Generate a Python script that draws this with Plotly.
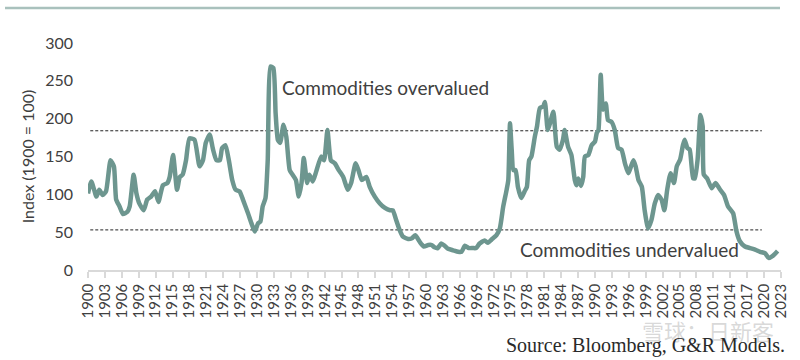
import plotly.graph_objects as go

years = [1900.0, 1900.6, 1901.5, 1902.0, 1902.6, 1903.2, 1904.0, 1904.6, 1905.0, 1905.6,
         1906.2, 1907.0, 1907.4, 1908.1, 1908.6, 1909.1, 1909.9, 1910.5, 1911.2, 1911.9,
         1912.5, 1913.3, 1914.1, 1914.5, 1915.1, 1915.8, 1916.3, 1916.8, 1917.4, 1918.0,
         1918.9, 1919.8, 1920.4, 1920.9, 1921.6, 1922.2, 1922.8, 1923.4, 1923.8, 1924.4,
         1925.0, 1925.6, 1926.2, 1926.9, 1927.5, 1928.4, 1929.0, 1929.6, 1930.2, 1930.6,
         1931.0, 1931.5, 1931.9, 1932.4, 1932.9, 1933.3, 1933.7, 1934.1, 1934.7, 1935.2,
         1935.8, 1936.3, 1936.9, 1937.4, 1937.9, 1938.3, 1938.9, 1939.3, 1939.9, 1940.5,
         1941.4, 1941.9, 1942.5, 1943.1, 1943.8, 1944.5, 1945.3, 1946.1, 1946.7, 1947.5,
         1948.0, 1948.6, 1949.4, 1950.0, 1950.9, 1951.8, 1952.7, 1953.6, 1954.1, 1954.7,
         1955.3, 1955.9, 1956.8, 1957.5, 1958.1, 1958.9, 1959.6, 1960.4, 1961.0, 1961.5,
         1962.1, 1962.7, 1963.3, 1963.9, 1964.8, 1965.7, 1966.3, 1966.9, 1967.6, 1968.3,
         1968.9, 1969.5, 1970.4, 1971.0, 1971.6, 1972.5, 1973.1, 1973.7, 1974.3, 1974.6,
         1974.9, 1975.2, 1975.5, 1975.9, 1976.3, 1976.9, 1977.5, 1977.9, 1978.3, 1978.7,
         1979.3, 1979.7, 1980.2, 1980.8, 1981.1, 1981.6, 1982.0, 1982.6, 1983.2, 1983.7,
         1984.3, 1984.6, 1985.2, 1985.8, 1986.4, 1986.7, 1987.0, 1987.5, 1987.9, 1988.2,
         1988.8, 1989.4, 1990.0, 1990.3, 1990.6, 1991.0, 1991.4, 1991.9, 1992.3, 1992.9,
         1993.5, 1994.1, 1994.7, 1995.3, 1995.9, 1996.8, 1997.2, 1997.7, 1998.3, 1998.8,
         1999.4, 2000.0, 2000.6, 2001.2, 2001.8, 2002.3, 2002.8, 2003.4, 2004.0, 2004.5,
         2005.1, 2005.6, 2005.9, 2006.4, 2006.8, 2007.4, 2007.7, 2008.2, 2008.7, 2009.1,
         2009.3, 2009.9, 2010.7, 2011.4, 2012.2, 2012.9, 2013.6, 2014.5, 2015.1, 2015.7,
         2016.6, 2017.5, 2018.4, 2019.3, 2020.2, 2020.8, 2021.6, 2022.4]

index_values = [101, 117, 97, 106, 99, 104, 145, 137, 93, 84,
                74, 77, 84, 126, 101, 88, 79, 93, 97, 104,
                90, 112, 115, 123, 152, 106, 123, 126, 145, 174,
                172, 137, 145, 168, 179, 159, 145, 145, 161, 165,
                145, 119, 106, 104, 93, 75, 62, 51, 62, 64,
                84, 95, 145, 269, 267, 207, 172, 168, 192, 176,
                132, 126, 119, 97, 115, 148, 115, 126, 117, 130,
                150, 145, 185, 145, 141, 132, 123, 106, 115, 141,
                132, 119, 123, 110, 97, 88, 82, 79, 79, 66,
                53, 44, 41, 42, 46, 37, 31, 33, 33, 30,
                29, 35, 32, 28, 26, 24, 24, 32, 29, 29,
                29, 35, 39, 36, 40, 46, 55, 84, 106, 119,
                194, 159, 132, 132, 110, 95, 104, 110, 145, 150,
                176, 190, 214, 216, 222, 185, 194, 209, 163, 159,
                172, 185, 163, 152, 119, 112, 121, 111, 123, 150,
                152, 165, 170, 181, 185, 258, 212, 220, 198, 196,
                185, 161, 159, 141, 128, 145, 137, 119, 110, 79,
                55, 66, 88, 99, 93, 79, 106, 128, 115, 137,
                146, 165, 172, 161, 159, 121, 121, 146, 205, 190,
                126, 121, 108, 115, 106, 99, 84, 75, 51, 38,
                31, 29, 27, 24, 22, 16, 19, 25]

tick_years = list(range(1900, 2024, 3))
tick_labels = [str(y) for y in tick_years]
y_ticks = [0, 50, 100, 150, 200, 250, 300]

overvalued_level = 184
undervalued_level = 53
band_start, band_end = 1900.4, 2019.6

label_over = "Commodities overvalued"
label_under = "Commodities undervalued"
y_title = "Index (1900 = 100)"
source_text = "Source: Bloomberg, G&R Models."
watermark = "雪球：日新客"

line_color = "#6D968F"
text_color = "#404040"

PLOT_W, PLOT_H = 693, 227

fig = go.Figure()
fig.add_trace(go.Scatter(
    x=years, y=index_values, mode="lines",
    line=dict(color=line_color, width=4.5, shape="spline", smoothing=0.5),
    hoverinfo="x+y", showlegend=False,
))

for lvl in (overvalued_level, undervalued_level):
    fig.add_shape(type="line", xref="x", yref="y", x0=band_start, x1=band_end,
                  y0=lvl, y1=lvl, line=dict(color="#222222", width=1, dash="3px,2px"),
                  layer="below")

fig.add_shape(type="line", xref="paper", yref="paper",
              x0=-83 / PLOT_W, x1=692 / PLOT_W, y0=1 + 35 / PLOT_H, y1=1 + 35 / PLOT_H,
              line=dict(color="#A9C1BD", width=2.5))

fig.add_annotation(x=1934.0, y=241, xref="x", yref="y", text=label_over, showarrow=False,
                   xanchor="left", yanchor="middle",
                   font=dict(family="Lato", size=19, color=text_color))
fig.add_annotation(x=1976.4, y=27, xref="x", yref="y", text=label_under, showarrow=False,
                   xanchor="left", yanchor="middle",
                   font=dict(family="Lato", size=19, color=text_color))
fig.add_annotation(x=688 / PLOT_W, y=-60 / PLOT_H, xref="paper", yref="paper", text=watermark,
                   showarrow=False, xanchor="right", yanchor="middle",
                   font=dict(family="Noto Sans CJK SC", size=22, color="rgba(170,170,170,0.45)"))
fig.add_annotation(x=699 / PLOT_W, y=-75 / PLOT_H, xref="paper", yref="paper", text=source_text,
                   showarrow=False, xanchor="right", yanchor="middle",
                   font=dict(family="Liberation Serif", size=20, color="#2a2a2a"))

fig.update_layout(
    width=800, height=360,
    margin=dict(l=88, r=19, t=43, b=90, autoexpand=False),
    paper_bgcolor="white", plot_bgcolor="white",
    font=dict(family="Lato", color=text_color),
    xaxis=dict(
        range=[1900, 2023], tickmode="array", tickvals=tick_years, ticktext=tick_labels,
        tickangle=-90, tickfont=dict(size=15, color=text_color),
        showgrid=False, zeroline=False, automargin=False,
        showline=True, linecolor="#D9D9D9", linewidth=1.5,
        ticks="outside", ticklen=6, tickcolor="#D9D9D9", tickwidth=1.5,
    ),
    yaxis=dict(
        range=[0, 300], tickvals=y_ticks, tickfont=dict(size=16, color=text_color),
        showgrid=False, zeroline=False, showline=False, automargin=False,
        ticklabelstandoff=14,
        title=dict(text=y_title, font=dict(size=16, color=text_color), standoff=6),
    ),
)

fig.write_html("out.html", config={"displayModeBar": False},
               post_script="document.body.style.margin='0';document.body.style.overflow='hidden';")
